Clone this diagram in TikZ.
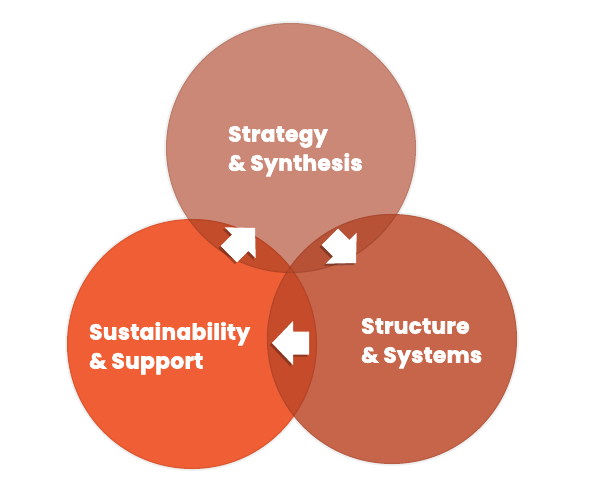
\documentclass[tikz,border=0pt]{standalone}
\usepackage{fontspec}
\newfontfamily\lbl{Poppins}[BoldFeatures={FakeBold=3}, LetterSpace=2]
\definecolor{ctop}{HTML}{CC8876}
\definecolor{cleft}{HTML}{EF5E34}
\definecolor{cright}{HTML}{C6654A}
\definecolor{otl}{HTML}{C34C2B}
\definecolor{otr}{HTML}{B85236}
\definecolor{olr}{HTML}{C54B2A}
\definecolor{oall}{HTML}{BC4A2B}
\tikzset{
  lab/.style={text=white, font=\lbl\bfseries\fontsize{21.6}{29}\selectfont, align=left, anchor=north west, inner sep=0pt},
  ring/.style={circle, minimum size=250pt, inner sep=0pt},
  blockarrow/.pic={\path[pic actions] (0,0) -- (-21,-22) -- (-21,-11.5) -- (-37,-11.5) -- (-37,11.5) -- (-21,11.5) -- (-21,22) -- cycle;},
  ashadow/.style={fill=black, opacity=0.28},
  afront/.style={fill=white}
}
\begin{document}
\begin{tikzpicture}[x=1pt,y=-1pt]
\useasboundingbox (0,0) rectangle (600,501);
\coordinate (ct) at (291,148);
\coordinate (cl) at (192,344);
\coordinate (cr) at (392,339);
% soft edges
\foreach \c in {ct,cl,cr}{\fill[black,opacity=0.06] (\c) circle (127);}
\node[ring, fill=ctop] (top) at (ct) {};
\node[ring, fill=cleft] (left) at (cl) {};
\node[ring, fill=cright] (right) at (cr) {};
\begin{scope}
  \clip (ct) circle (125);
  \fill[otl] (cl) circle (125);
  \fill[otr] (cr) circle (125);
\end{scope}
\begin{scope}
  \clip (cl) circle (125);
  \fill[olr] (cr) circle (125);
  \clip (cr) circle (125);
  \fill[oall] (ct) circle (125);
\end{scope}
% edge lines
\foreach \c in {ct,cl,cr}{\draw[black,opacity=0.08,line width=1.2pt] (\c) circle (124.5);}
% arrows
\coordinate (a1) at (255,228);
\coordinate (a2) at (356,263);
\coordinate (a3) at (272,343);
\pic[ashadow, rotate=45] at ([shift={(-2,2)}]a1) {blockarrow};
\pic[afront, rotate=45] at (a1) {blockarrow};
\pic[ashadow, rotate=-45] at ([shift={(-2,2)}]a2) {blockarrow};
\pic[afront, rotate=-45] at (a2) {blockarrow};
\pic[ashadow, rotate=180] at ([shift={(-2,2)}]a3) {blockarrow};
\pic[afront, rotate=180] at (a3) {blockarrow};
% labels
\node[lab] (ltop) at (228,126) {Strategy\\\& Synthesis};
\node[lab] (lleft) at (89,322) {Sustainability\\\& Support};
\node[lab] (lright) at (361,318) {Structure\\\& Systems};
\end{tikzpicture}
\end{document}
